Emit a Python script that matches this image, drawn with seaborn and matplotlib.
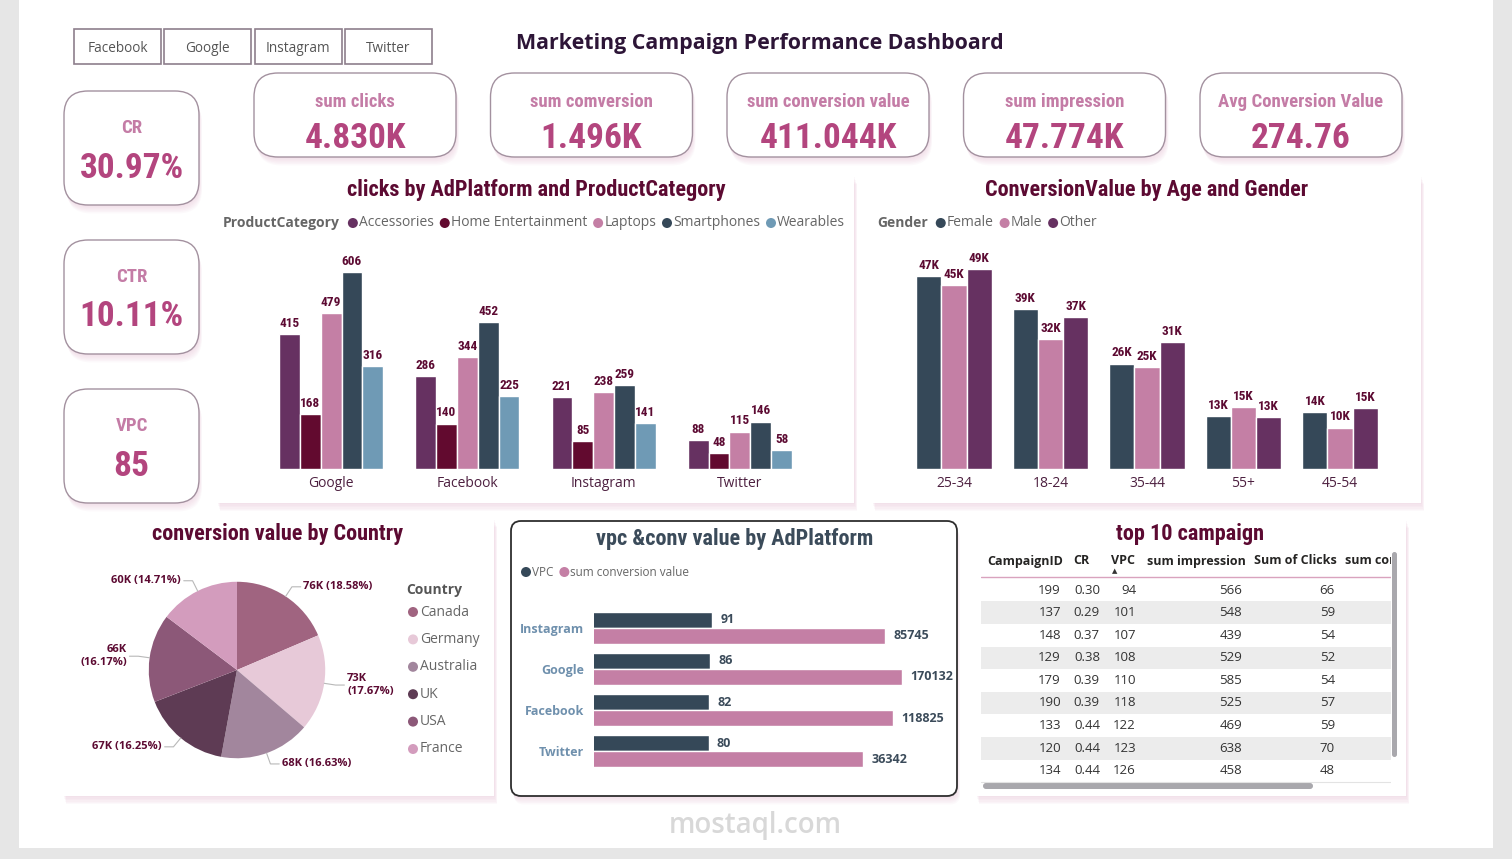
import numpy as np
import pandas as pd
import matplotlib
matplotlib.use("Agg")
import matplotlib.pyplot as plt
import seaborn as sns
from matplotlib import font_manager
from matplotlib.patches import FancyBboxPatch, Rectangle, Circle

W, H = 1512, 859

# ---- data ----
slicers = ["Facebook", "Google", "Instagram", "Twitter"]

kpi_labels = ["sum clicks", "sum comversion", "sum conversion value", "sum impression", "Avg Conversion Value"]
kpi_values = ["4.830K", "1.496K", "411.044K", "47.774K", "274.76"]
side_labels = ["CR", "CTR", "VPC"]
side_values = ["30.97%", "10.11%", "85"]

platforms = ["Google", "Facebook", "Instagram", "Twitter"]
categories = ["Accessories", "Home Entertainment", "Laptops", "Smartphones", "Wearables"]
clicks_accessories = [415, 286, 221, 88]
clicks_home_ent = [168, 140, 85, 48]
clicks_laptops = [479, 344, 238, 115]
clicks_smartphones = [606, 452, 259, 146]
clicks_wearables = [316, 225, 141, 58]

age_groups = ["25-34", "18-24", "35-44", "55+", "45-54"]
genders = ["Female", "Male", "Other"]
conv_female = [47100, 38900, 25700, 12900, 13900]
conv_male = [44900, 31700, 24800, 15100, 10100]
conv_other = [48800, 37000, 31000, 12600, 14900]

countries = ["Canada", "Germany", "Australia", "UK", "USA", "France"]
country_conv = [76370, 72630, 68360, 66800, 66470, 60460]

vpc_platforms = ["Instagram", "Google", "Facebook", "Twitter"]
vpc_values = [91, 86, 82, 80]
conv_values = [85745, 170132, 118825, 36342]

campaign_ids = [199, 137, 148, 129, 179, 190, 133, 120, 134]
campaign_cr = [0.30, 0.29, 0.37, 0.38, 0.39, 0.39, 0.44, 0.44, 0.44]
campaign_vpc = [94, 101, 107, 108, 110, 118, 122, 123, 126]
campaign_impr = [566, 548, 439, 529, 585, 525, 469, 638, 458]
campaign_clicks = [66, 59, 54, 52, 54, 57, 59, 70, 48]

# ---- colours ----
cat_colors = ["#663161", "#620a2f", "#c47fa5", "#354858", "#6f9ab5"]
gender_colors = ["#354858", "#c47fa5", "#663161"]
country_colors = ["#a06480", "#e7c9d8", "#a2869d", "#5e3b54", "#8c5878", "#d39cbd"]
vpc_colors = ["#354858", "#c47fa5"]
MAROON = "#5c0a32"
GREY = "#666666"

sns.set_theme(style="white")
names = {f.name for f in font_manager.fontManager.ttflist}
HEAD = next((n for n in ["Liberation Sans Narrow", "Roboto Condensed", "Roboto"] if n in names), "DejaVu Sans")
BODY = "Open Sans" if "Open Sans" in names else "DejaVu Sans"
hs = 1.0 if "Narrow" in HEAD or "Condensed" in HEAD else 0.85
plt.rcParams["font.family"] = [BODY, "DejaVu Sans"]


def px_rect(x, y, w, h):
    return [x / W, 1 - (y + h) / H, w / W, h / H]


fig = plt.figure(figsize=(W / 100, H / 100), dpi=100, facecolor="#e6e6e6")
bg = fig.add_axes([0, 0, 1, 1])
bg.set_xlim(0, W)
bg.set_ylim(H, 0)
bg.axis("off")
bg.add_patch(Rectangle((19, 0), 1474, 848, fc="white", ec="none"))
renderer = fig.canvas.get_renderer()


def box(x, y, w, h, r=0, fc="white", ec="none", lw=0, alpha=1.0):
    style = f"round,pad=0,rounding_size={r}" if r else "square,pad=0"
    bg.add_patch(FancyBboxPatch((x, y), w, h, boxstyle=style, fc=fc, ec=ec, lw=lw, alpha=alpha))


def panel(x, y, w, h, r=0, ec="none", lw=0):
    for k in range(6, 0, -1):
        box(x + k * 0.5, y + k * 1.4, w, h, r, fc="#e6bfd3", alpha=0.09)
    box(x, y, w, h, r, ec=ec, lw=lw)


def legend_row(x, y, title, labels, colors, fs=10):
    if title:
        t = bg.text(x, y, title, fontsize=fs, fontweight="bold", color=GREY, va="center")
        x += t.get_window_extent(renderer=renderer).width + 8
    for lab, col in zip(labels, colors):
        bg.add_patch(Circle((x + 5, y), 5, fc=col, ec="none"))
        t = bg.text(x + 11, y, lab, fontsize=fs, color=GREY, va="center")
        x += 11 + t.get_window_extent(renderer=renderer).width + 6


def style_bars(ax):
    ax.set_facecolor("none")
    sns.despine(ax=ax, left=True, bottom=True)
    ax.set_yticks([])
    ax.set_xlabel("")
    ax.set_ylabel("")
    ax.grid(False)
    ax.tick_params(axis="x", length=0, pad=5, labelsize=10, labelcolor="#4d2040")


# ---- slicers and title ----
for i, s in enumerate(slicers):
    x = 74 + i * 90.3
    box(x, 29, 87, 35, ec="#8e7f8c", lw=1.2)
    bg.text(x + 43.5, 48, s, fontsize=9.8, color="#555555", ha="center", va="center")
bg.text(760, 44, "Marketing Campaign Performance Dashboard", fontsize=15.4, fontweight="bold",
        color="#2d1537", ha="center", va="center")

# ---- KPI cards ----
for i, (lab, val) in enumerate(zip(kpi_labels, kpi_values)):
    x = 254 + i * 236.5
    panel(x, 73, 202, 84, r=24, ec="#a3919f", lw=1)
    bg.text(x + 101, 102, lab, fontsize=13.5 * hs, fontweight="bold", color="#c47ca6",
            ha="center", va="center", family=HEAD)
    bg.text(x + 101, 139, val, fontsize=25.5 * hs, fontweight="bold", color="#b3457e",
            ha="center", va="center", family=HEAD)
for i, (lab, val) in enumerate(zip(side_labels, side_values)):
    y = 91 + i * 149
    panel(64, y, 135, 114, r=24, ec="#a3919f", lw=1)
    bg.text(131.5, y + 37, lab, fontsize=13.5 * hs, fontweight="bold", color="#c47ca6",
            ha="center", va="center", family=HEAD)
    bg.text(131.5, y + 77, val, fontsize=25.5 * hs, fontweight="bold", color="#b3457e",
            ha="center", va="center", family=HEAD)

# ---- panels ----
panel(217, 176, 637, 327)
panel(872, 176, 549, 327)
panel(63, 519, 431, 277)
panel(511, 521, 446, 275, r=10, ec="#2e2e2e", lw=1.3)
panel(976, 520, 430, 276)

title_kw = dict(fontsize=16 * hs, fontweight="bold", ha="center", va="center", family=HEAD)
bg.text(536, 190, "clicks by AdPlatform and ProductCategory", color=MAROON, **title_kw)
bg.text(1147, 190, "ConversionValue by Age and Gender", color=MAROON, **title_kw)
bg.text(278, 534, "conversion value by Country", color=MAROON, **title_kw)
bg.text(735, 539, "vpc &conv value by AdPlatform", color="#3b4b5a", **title_kw)
bg.text(1190, 534, "top 10 campaign", color=MAROON, **title_kw)

# ---- clicks by platform and category ----
legend_row(223, 223, "ProductCategory", categories, cat_colors)
clicks_df = pd.DataFrame({
    "platform": platforms * len(categories),
    "category": np.repeat(categories, len(platforms)),
    "clicks": clicks_accessories + clicks_home_ent + clicks_laptops + clicks_smartphones + clicks_wearables,
})
ax1 = fig.add_axes(px_rect(263, 250, 545, 219))
sns.barplot(data=clicks_df, x="platform", y="clicks", hue="category", order=platforms,
            hue_order=categories, palette=cat_colors, saturation=1, width=0.765,
            errorbar=None, legend=False, ax=ax1)
ax1.set_xlim(-0.5, 3.5)
ax1.set_ylim(0, 674)
for c in ax1.containers:
    ax1.bar_label(c, fmt="{:.0f}", padding=3, fontsize=9.5 * hs, fontweight="bold",
                  color=MAROON, family=HEAD)
style_bars(ax1)

# ---- conversion value by age and gender ----
legend_row(877, 223, "Gender", genders, gender_colors)
age_df = pd.DataFrame({
    "age": age_groups * len(genders),
    "gender": np.repeat(genders, len(age_groups)),
    "value": conv_female + conv_male + conv_other,
})
ax2 = fig.add_axes(px_rect(905.75, 250, 482.5, 219))
sns.barplot(data=age_df, x="age", y="value", hue="gender", order=age_groups,
            hue_order=genders, palette=gender_colors, saturation=1, width=0.78,
            errorbar=None, legend=False, ax=ax2)
ax2.set_xlim(-0.5, 4.5)
ax2.set_ylim(0, 53400)
for c in ax2.containers:
    ax2.bar_label(c, fmt=lambda v: f"{v / 1000:.0f}K", padding=3, fontsize=9.5 * hs,
                  fontweight="bold", color=MAROON, family=HEAD)
style_bars(ax2)

# ---- pie by country ----
axp = fig.add_axes(px_rect(87, 520, 300, 300))
wedges, _ = axp.pie(country_conv, colors=country_colors, startangle=90, counterclock=False,
                    radius=1, wedgeprops=dict(linewidth=0))
axp.set_xlim(-1.7, 1.7)
axp.set_ylim(-1.7, 1.7)
axp.set_aspect("equal")
axp.axis("off")
total = sum(country_conv)
for w, v in zip(wedges, country_conv):
    ang = np.deg2rad((w.theta1 + w.theta2) / 2)
    cx, cy = np.cos(ang), np.sin(ang)
    side = 1 if cx >= 0 else -1
    ex, ey = 1.13 * cx, 1.13 * cy
    tx = ex + side * 0.1
    axp.plot([cx, ex, tx], [cy, ey, ey], color="#b8b8b8", lw=0.8, clip_on=False)
    sep = "\n" if abs(cx) > 0.9 else " "
    axp.text(tx + side * 0.03, ey, f"{v / 1000:.0f}K{sep}({v / total * 100:.2f}%)",
             ha="left" if side > 0 else "right", va="center", fontsize=8,
             fontweight="bold", color=MAROON, clip_on=False)
bg.text(406, 590, "Country", fontsize=10, fontweight="bold", color="#555555", va="center")
for i, (cn, col) in enumerate(zip(countries, country_colors)):
    yy = 612 + i * 27.4
    bg.add_patch(Circle((413, yy), 5, fc=col, ec="none"))
    bg.text(420, yy, cn, fontsize=10, color=GREY, va="center")

# ---- vpc & conversion value by platform ----
legend_row(521, 572, None, ["VPC", "sum conversion value"], vpc_colors, fs=8.5)
vpc_df = pd.DataFrame({
    "platform": vpc_platforms * 2,
    "metric": ["VPC"] * len(vpc_platforms) + ["sum conversion value"] * len(vpc_platforms),
    "value": vpc_values + conv_values,
})
ax3 = fig.add_axes(px_rect(594, 607, 330, 165))
sns.barplot(data=vpc_df, y="platform", x="value", hue="metric", orient="h", order=vpc_platforms,
            palette=vpc_colors, saturation=1, width=0.78, errorbar=None, legend=False, ax=ax3)
ax3.set_xscale("log")
ax3.set_xlim(0.852, 4.07e5)
ax3.set_ylim(3.5, -0.5)
for c in ax3.containers:
    ax3.bar_label(c, fmt="{:.0f}", padding=6, fontsize=9, fontweight="bold", color="#3b4b5a")
ax3.set_facecolor("none")
sns.despine(ax=ax3, left=True, bottom=True)
ax3.xaxis.set_visible(False)
ax3.set_ylabel("")
ax3.tick_params(axis="y", length=0, pad=7, labelsize=9, labelcolor="#6f90ad")
for t in ax3.get_yticklabels():
    t.set_fontweight("bold")

# ---- top 10 campaign table ----
axt = fig.add_axes(px_rect(981, 548, 410, 236))
axt.set_xlim(0, 410)
axt.set_ylim(236, 0)
axt.axis("off")
row0, row_h = 42, 22.6
columns = [
    ("CampaignID", 6, campaign_ids, 80, "{}"),
    ("CR", 92, campaign_cr, 119, "{:.2f}"),
    ("VPC", 130, campaign_vpc, 155, "{}"),
    ("sum impression", 166, campaign_impr, 261, "{}"),
    ("Sum of Clicks", 273, campaign_clicks, 354, "{}"),
    ("sum conversion", 364, None, None, None),
]
for i in range(len(campaign_ids)):
    if i % 2 == 1:
        axt.add_patch(Rectangle((0, row0 + i * row_h - row_h / 2), 410, row_h, fc="#ececec", ec="none"))
for head, hx, vals, vx, fmt in columns:
    axt.text(hx, 13, head, fontsize=9, fontweight="bold", color="#252423", ha="left",
             va="center", clip_on=True)
    if vals is None:
        continue
    for i, v in enumerate(vals):
        axt.text(vx, row0 + i * row_h, fmt.format(v), fontsize=9.5, color="#333333",
                 ha="right", va="center", clip_on=True)
axt.plot([0, 410], [29, 29], color="#d9a3be", lw=1)
axt.plot([0, 410], [234, 234], color="#e3e3e3", lw=0.8)
bg.text(1115, 571, "\u25b2", fontsize=5, family="DejaVu Sans", color="#333333", ha="center", va="center")
box(1392, 552, 5, 205, r=2.5, fc="#a9a8ad")
box(983, 783, 330, 6, r=3, fc="#a9a8ad")

# watermark
bg.text(755, 826, "mostaql.com", fontsize=20, fontweight="semibold", color="#d8d8d8",
        ha="center", va="center")

fig.savefig("out.png", dpi=100, facecolor=fig.get_facecolor())
